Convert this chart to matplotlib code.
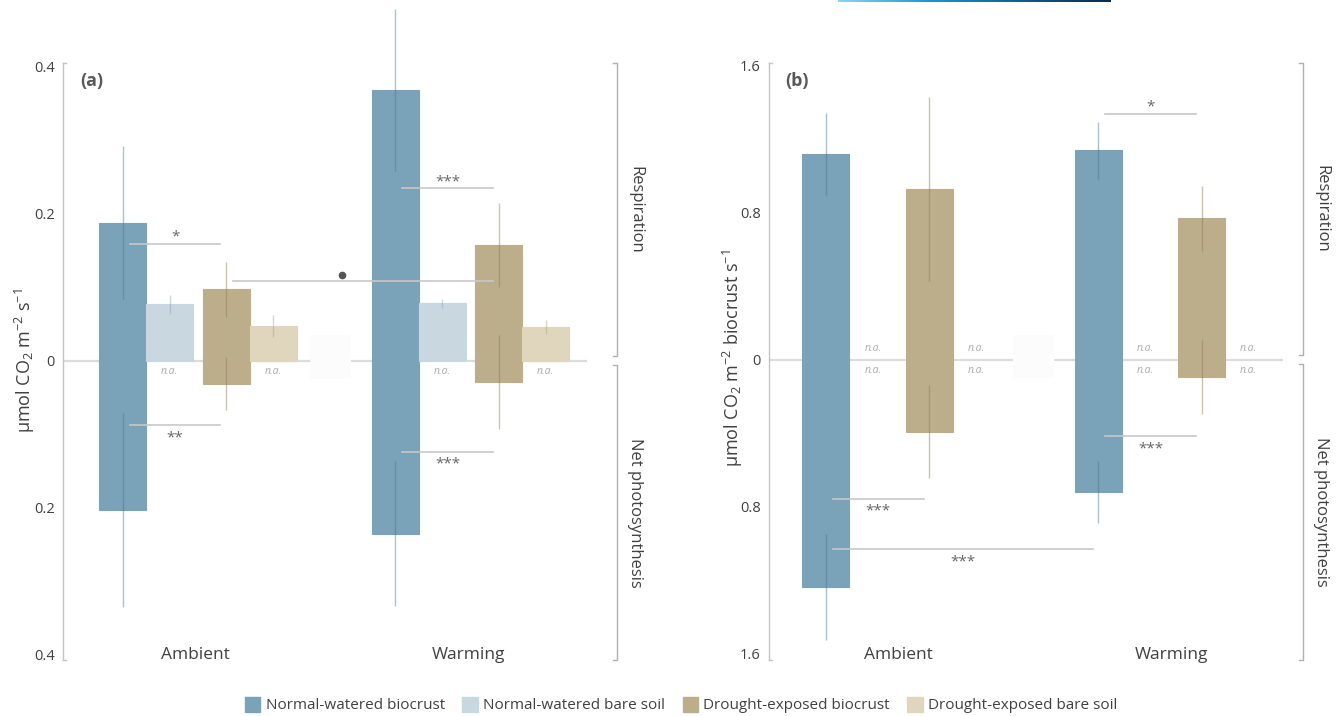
import matplotlib
matplotlib.use('Agg')
import matplotlib.pyplot as plt
import matplotlib.transforms as mtransforms
from matplotlib.patches import Patch, Rectangle
from matplotlib.colors import LinearSegmentedColormap
import numpy as np

plt.rcParams['font.family'] = ['Open Sans', 'DejaVu Sans']
plt.rcParams['mathtext.fontset'] = 'custom'
plt.rcParams['mathtext.rm'] = 'Open Sans'
plt.rcParams['mathtext.it'] = 'Open Sans:italic'

# ---- data -------------------------------------------------------------
categories = ['Ambient', 'Warming']
treatments = ['Normal-watered biocrust', 'Normal-watered bare soil',
              'Drought-exposed biocrust', 'Drought-exposed bare soil']
colors = ['#7aa2b9', '#c8d7e0', '#bdae8b', '#dfd6bd']
err_colors = ['#4a7590', '#8fa9b9', '#8a7a52', '#b3a57f']

# (a) per ground area, umol CO2 m-2 s-1 ; None = not available
resp_a = [[0.188, 0.368], [0.077, 0.078], [0.097, 0.158], [0.047, 0.046]]
resp_a_se = [[0.104, 0.110], [0.013, 0.006], [0.037, 0.057], [0.015, 0.009]]
photo_a = [[0.203, 0.235], None, [0.031, 0.029], None]
photo_a_se = [[0.132, 0.099], None, [0.036, 0.064], None]

# (b) per biocrust area, umol CO2 m-2 biocrust s-1
resp_b = [[1.12, 1.14], None, [0.93, 0.77], None]
resp_b_se = [[0.225, 0.155], None, [0.50, 0.177], None]
photo_b = [[1.235, 0.72], None, [0.39, 0.093], None]
photo_b_se = [[0.287, 0.17], None, [0.253, 0.20], None]

# significance: (label, (group, bar), (group, bar), level)
sig_a = [('*', (0, 0), (0, 2), 0.159), ('\u2022', (0, 2), (1, 2), 0.109),
         ('***', (1, 0), (1, 2), 0.235), ('**', (0, 0), (0, 2), -0.088),
         ('***', (1, 0), (1, 2), -0.124)]
sig_b = [('*', (1, 0), (1, 2), 1.34), ('***', (0, 0), (0, 2), -0.756),
         ('***', (0, 0), (1, 0), -1.03), ('***', (1, 0), (1, 2), -0.414)]

# ---- layout -----------------------------------------------------------
W, H = 1341, 716
group_pos = np.array([0.0, 5.8])
bar_off = [-1.6, -0.6, 0.6, 1.6]
bar_w = 1.0
text_col = '#404040'


def px_rect(x0, y0, x1, y1):
    return [x0 / W, 1 - y1 / H, (x1 - x0) / W, (y1 - y0) / H]


fig = plt.figure(figsize=(W / 100, H / 100), dpi=100)


def bar_x(g, b):
    return group_pos[g] + bar_off[b]


def draw_panel(ax, resp, resp_se, photo, photo_se, sig, lim, ticks, tag,
               bracket_x, na_above):
    ax.set_ylim(-lim[0], lim[1])
    for sp in ['top', 'right', 'bottom']:
        ax.spines[sp].set_visible(False)
    ax.spines['left'].set_color('#c4c4c4')
    ax.spines['left'].set_linewidth(1.0)
    ax.set_xticks([])
    ax.set_yticks(ticks)
    ax.set_yticklabels(['%g' % abs(t) for t in ticks])
    ax.tick_params(axis='y', length=0, pad=6, labelsize=10.5,
                   labelcolor=text_col)
    # tiny end caps on the axis line
    for yy in (0.0, 1.0):
        ax.plot([0, 0.006], [yy, yy], color='#c4c4c4', lw=1.0,
                transform=ax.transAxes, clip_on=False)
    ax.axhline(0, color='#dcdcdc', lw=1.6, zorder=1)

    # white gap in the zero line between the two groups
    gx = (group_pos[0] + group_pos[1]) / 2 - 0.52
    ax.add_patch(Rectangle((gx, -lim[1] * 0.06), 0.88, lim[1] * 0.145,
                           facecolor='#fcfcfc', edgecolor='none', zorder=2))

    for b in range(4):
        for vals, se, sign in [(resp, resp_se, 1), (photo, photo_se, -1)]:
            if vals[b] is None:
                for g in range(2):
                    if sign == -1 or na_above:
                        dy = -11 if sign == -1 else 11
                        ax.annotate('n.a.', (bar_x(g, b), 0), xytext=(0, dy),
                                    textcoords='offset pixels', ha='center',
                                    va='center', fontsize=7.5,
                                    style='italic', color='#adadad')
                continue
            x = [bar_x(g, b) for g in range(2)]
            h = [sign * v for v in vals[b]]
            ax.bar(x, h, width=bar_w, color=colors[b],
                   edgecolor=colors[b], linewidth=0.8, zorder=3)
            eb = ax.errorbar(x, h, yerr=se[b], fmt='none',
                             ecolor=err_colors[b], elinewidth=1.0,
                             alpha=0.45, capsize=0, zorder=4)
            for coll in eb.lines[2]:
                coll.set_clip_on(False)

    for label, (g0, b0), (g1, b1), y in sig:
        x0 = bar_x(g0, b0) + 0.15
        x1 = bar_x(g1, b1) - 0.12
        ax.plot([x0, x1], [y, y], color='#c8c8c8', lw=1.2, zorder=5)
        if label == '\u2022':
            ax.plot(x0 + 0.42 * (x1 - x0), y + lim[1] * 0.018, 'o',
                    ms=4.5, color='#555555', zorder=6)
        elif y > 0:
            ax.annotate(label, ((x0 + x1) / 2, y), xytext=(0, -1),
                        textcoords='offset pixels', ha='center',
                        va='bottom', fontsize=11, color='#666666')
        else:
            ax.annotate(label, ((x0 + x1) / 2, y), xytext=(0, -5),
                        textcoords='offset pixels', ha='center',
                        va='top', fontsize=11, color='#666666')

    # group labels along the bottom
    trans = mtransforms.blended_transform_factory(ax.transData, ax.transAxes)
    for g, cat in enumerate(categories):
        ax.text(group_pos[g] - 0.05, 0.008, cat, transform=trans,
                ha='center', va='center', fontsize=12.5, color=text_col)

    # brackets for the two flux directions
    tb = mtransforms.blended_transform_factory(ax.transAxes, ax.transData)
    top, bot = lim[1], -lim[0]
    for y0, y1, name in [(0.015 * top, top, 'Respiration'),
                         (bot, -0.015 * top, 'Net photosynthesis')]:
        ax.plot([bracket_x - 0.008, bracket_x, bracket_x, bracket_x - 0.008],
                [y0, y0, y1, y1], color='#b0b0b0', lw=1.0,
                transform=tb, clip_on=False)
        ax.text(bracket_x + 0.035, (y0 + y1) / 2, name, transform=tb,
                rotation=-90, ha='center', va='center', fontsize=12,
                color=text_col)

    ax.text(0.032, 0.97, tag, transform=ax.transAxes, ha='left', va='center',
            fontsize=13, fontweight='bold', color='#595959')


ax_a = fig.add_axes(px_rect(63, 63, 587, 660))
ax_a.set_xlim(-2.87, 8.28)
draw_panel(ax_a, resp_a, resp_a_se, photo_a, photo_a_se, sig_a,
           (0.407, 0.405), [-0.4, -0.2, 0, 0.2, 0.4], '(a)', 1.057, False)
fig.text(25 / W, 1 - 361 / H, r'µmol CO$_2$ m$^{-2}$ s$^{-1}$', rotation=90,
         ha='center', va='center', fontsize=13, color=text_col)

ax_b = fig.add_axes(px_rect(769, 63, 1283, 660))
ax_b.set_xlim(-2.81, 8.13)
draw_panel(ax_b, resp_b, resp_b_se, photo_b, photo_b_se, sig_b,
           (1.633, 1.616), [-1.6, -0.8, 0, 0.8, 1.6], '(b)', 1.039, True)
fig.text(733 / W, 1 - 358 / H, r'µmol CO$_2$ m$^{-2}$ biocrust s$^{-1}$',
         rotation=90, ha='center', va='center', fontsize=13, color=text_col)

# thin gradient rule along the top edge
grad_ax = fig.add_axes(px_rect(838, 0, 1111, 2))
cmap = LinearSegmentedColormap.from_list('rule', ['#8ad6f7', '#1d95d4',
                                                  '#0a5f94', '#0b2c47'])
grad_ax.imshow(np.linspace(0, 1, 256)[None, :], aspect='auto', cmap=cmap)
grad_ax.axis('off')

handles = [Patch(facecolor=c, edgecolor=c) for c in colors]
fig.legend(handles, treatments, loc='center', ncol=4, frameon=False,
           bbox_to_anchor=(0.508, 1 - 705 / H), fontsize=11,
           handlelength=1.0, handleheight=1.2, handletextpad=0.35,
           columnspacing=1.15, labelcolor=text_col)

fig.savefig('out.png', dpi=100, facecolor='white')
